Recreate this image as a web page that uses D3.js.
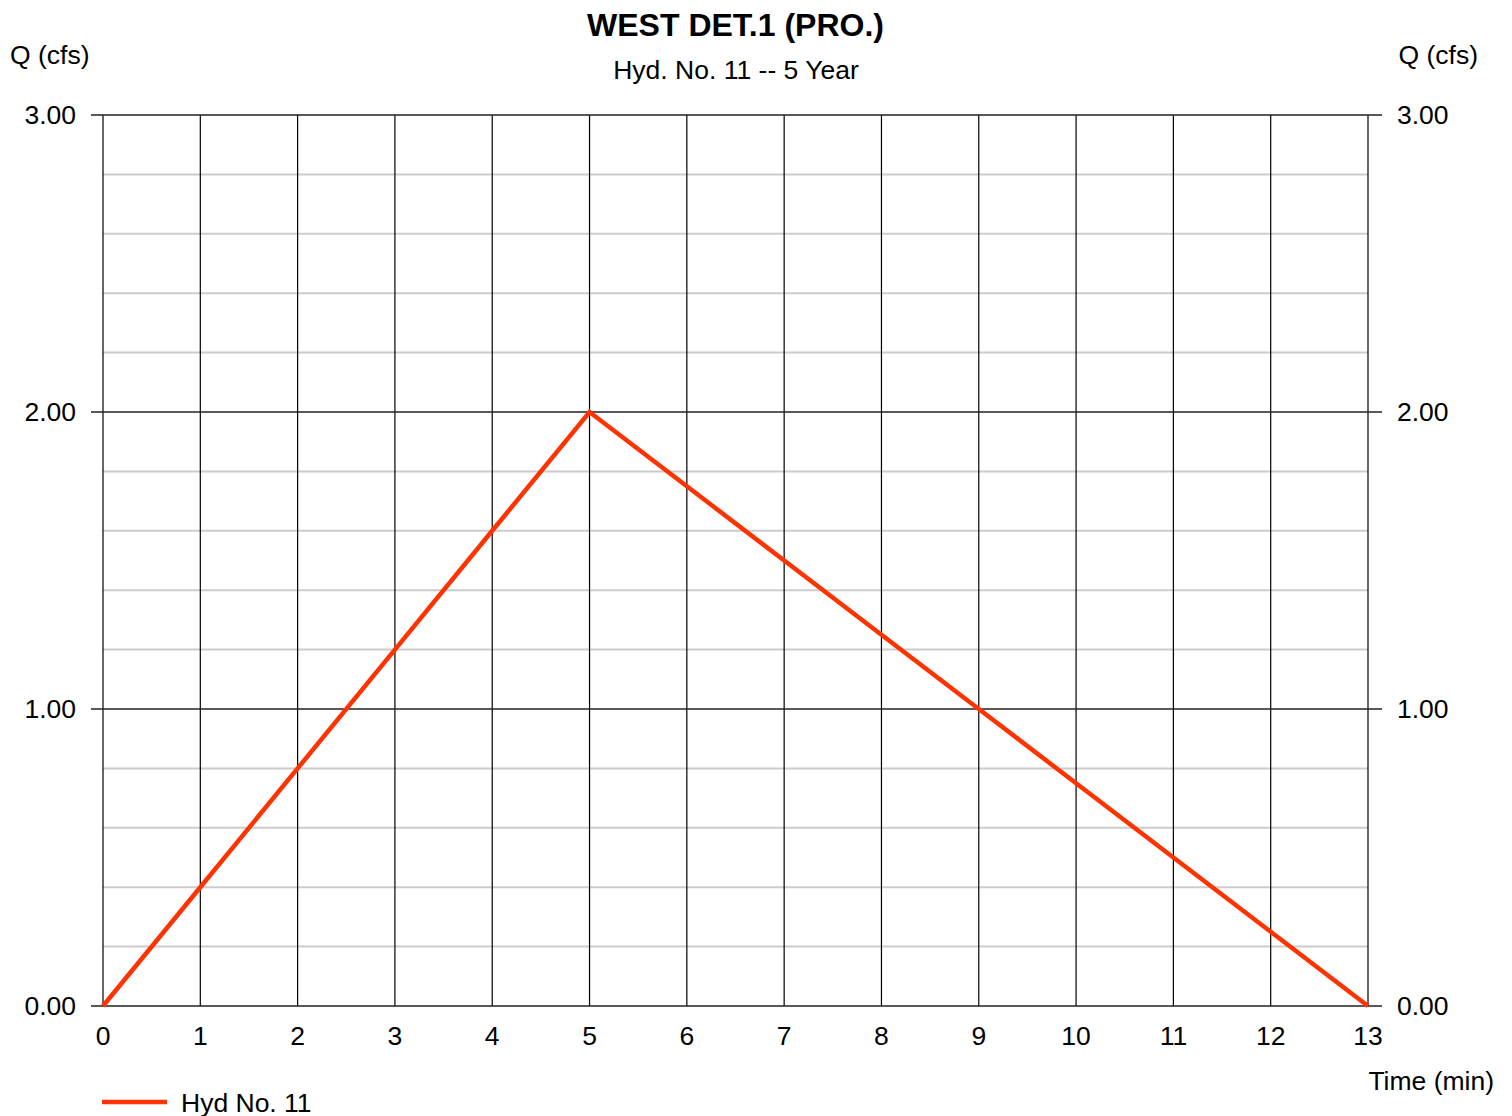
<!DOCTYPE html>
<html>
<head>
<meta charset="utf-8">
<script src="https://cdn.jsdelivr.net/npm/d3@7"></script>
<style>
html,body{margin:0;padding:0;background:#fff;}
svg{display:block;}
text{font-family:"Liberation Sans",Arial,sans-serif;fill:#000;}
</style>
</head>
<body>
<svg id="chart" width="1512" height="1116"></svg>
<script>
const title = "WEST DET.1 (PRO.)";
const subtitle = "Hyd. No. 11 -- 5 Year";
const yLabel = "Q (cfs)";
const xLabel = "Time (min)";
const seriesName = "Hyd No. 11";
const timeMin = [0,1,2,3,4,5,6,7,8,9,10,11,12,13];
const flowCfs = [0,0.4,0.8,1.2,1.6,2.0,1.75,1.5,1.25,1.0,0.75,0.5,0.25,0];
const xTicks = [0,1,2,3,4,5,6,7,8,9,10,11,12,13];
const yMajorTicks = [0,1,2,3];
const yMinorTicks = [0.2,0.4,0.6,0.8,1.2,1.4,1.6,1.8,2.2,2.4,2.6,2.8];

const svg = d3.select("#chart");
const L = 103, R = 1368, T = 115, B = 1006;
const FS = 26.5;
const x = d3.scaleLinear().domain([0,13]).range([L,R]);
const y = d3.scaleLinear().domain([0,3]).range([B,T]);

// minor horizontal grid
svg.append("g").selectAll("line").data(yMinorTicks).join("line")
  .attr("x1",L).attr("x2",R).attr("y1",d=>y(d)).attr("y2",d=>y(d))
  .attr("stroke","#cccccc").attr("stroke-width",2);

// vertical grid
svg.append("g").selectAll("line").data(xTicks).join("line")
  .attr("x1",d=>x(d)).attr("x2",d=>x(d)).attr("y1",T).attr("y2",B)
  .attr("stroke","#000").attr("stroke-width",1.2);

// major horizontal grid with tick extensions
svg.append("g").selectAll("line").data(yMajorTicks).join("line")
  .attr("x1",L-12).attr("x2",R+14).attr("y1",d=>y(d)).attr("y2",d=>y(d))
  .attr("stroke","#222").attr("stroke-width",1.5);

// left y labels
svg.append("g").selectAll("text").data(yMajorTicks).join("text")
  .attr("x",76).attr("y",d=>y(d)).attr("dy","0.35em")
  .attr("text-anchor","end").attr("font-size",FS)
  .text(d=>d3.format(".2f")(d));
// right y labels
svg.append("g").selectAll("text").data(yMajorTicks).join("text")
  .attr("x",1397).attr("y",d=>y(d)).attr("dy","0.35em")
  .attr("text-anchor","start").attr("font-size",FS)
  .text(d=>d3.format(".2f")(d));
// x labels
svg.append("g").selectAll("text").data(xTicks).join("text")
  .attr("x",d=>x(d)).attr("y",1045)
  .attr("text-anchor","middle").attr("font-size",FS)
  .text(d=>d);

// series line
const line = d3.line().x((d,i)=>x(timeMin[i])).y(d=>y(d));
svg.append("path").datum(flowCfs)
  .attr("d",line).attr("fill","none")
  .attr("stroke","#ff3300").attr("stroke-width",4.5)
  .attr("stroke-linejoin","miter");

// titles
svg.append("text").attr("x",735.5).attr("y",36).attr("text-anchor","middle")
  .attr("font-size",32).attr("font-weight","bold").text(title);
svg.append("text").attr("x",736).attr("y",79).attr("text-anchor","middle")
  .attr("font-size",FS).text(subtitle);
svg.append("text").attr("x",10).attr("y",64).attr("font-size",FS).text(yLabel);
svg.append("text").attr("x",1478).attr("y",64).attr("text-anchor","end").attr("font-size",FS).text(yLabel);
svg.append("text").attr("x",1494).attr("y",1090).attr("text-anchor","end").attr("font-size",FS).text(xLabel);

// legend
svg.append("line").attr("x1",102).attr("x2",167).attr("y1",1102).attr("y2",1102)
  .attr("stroke","#ff3300").attr("stroke-width",4.5);
svg.append("text").attr("x",181).attr("y",1112).attr("font-size",FS).text(seriesName);
</script>
</body>
</html>
